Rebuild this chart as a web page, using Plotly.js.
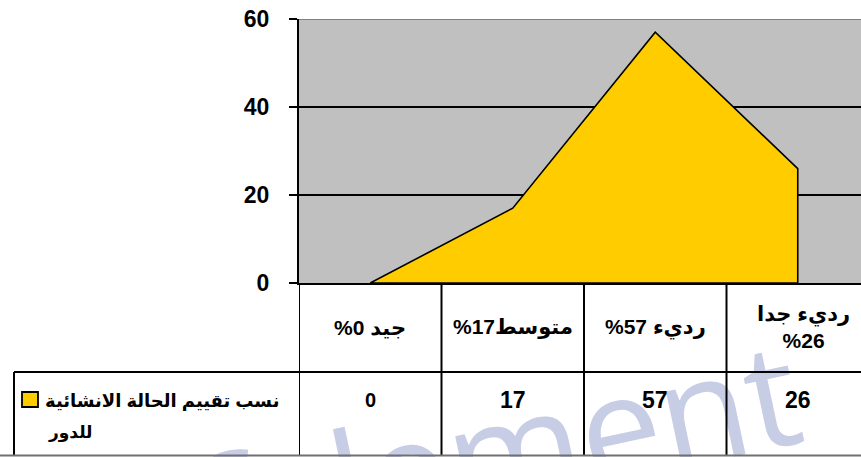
<!DOCTYPE html>
<html>
<head>
<meta charset="utf-8">
<script src="https://cdn.plot.ly/plotly-3.0.1.min.js"></script>
<style>html,body{margin:0;padding:0;background:#fff;}#chart{width:861px;height:457px;}</style>
</head>
<body>
<div id="chart"></div>
<script>
// ---- data ----
const categoryLabels = ["%0 جيد", "%17متوسط", "%57 رديء", "رديء جدا<br>%26"];
const seriesName = "نسب تقييم الحالة الانشائية";
const seriesNameLine2 = "للدور";
const values = [0, 17, 57, 26];
const yTickVals = [0, 20, 40, 60];
const yTickText = ["0", "20", "40", "60"];
const watermark = "<b>pdf</b>element";

// ---- layout helpers (pixels -> paper) ----
const W = 861, H = 457;
const px = v => v / W;
const py = v => 1 - v / H;
const plotLeft = 299, plotTop = 19, plotBottom = 283;
const colW = 142.5;
const idx = values.map((_, i) => i);
const xMax = (W - plotLeft) / colW - 0.5;

const FONT = "Liberation Sans, Arial, DejaVu Sans, sans-serif";

// closed polygon for the area (Excel area outline incl. right edge)
const polyX = idx.concat([idx[idx.length - 1], idx[0]]);
const polyY = values.concat([0, 0]);

const traces = [{
  type: "scatter", mode: "lines",
  x: polyX, y: polyY,
  fill: "toself", fillcolor: "#FFCC00",
  line: {color: "#000", width: 1.6},
  hoverinfo: "skip", showlegend: false
}];

const shapes = [];
// watermark (under everything)
shapes.push({type: "rect", xref: "paper", yref: "paper", layer: "below",
  x0: px(309), x1: px(509), y0: py(428), y1: py(528),
  line: {width: 0}, fillcolor: "rgba(0,0,0,0)",
  label: {text: watermark, textangle: -12, textposition: "middle center",
    font: {family: "Open Sans, sans-serif", size: 145, color: "#c8cde6"}}});
// top border of plot area
shapes.push({type: "line", xref: "paper", yref: "y", x0: px(plotLeft), x1: 1, y0: 60, y1: 60,
  line: {color: "#808080", width: 2}});
// table vertical lines
[-0.5, 0.5, 1.5, 2.5].forEach(b => shapes.push({type: "line", xref: "x", yref: "paper",
  x0: b, x1: b, y0: py(plotBottom), y1: py(455), line: {color: "#000", width: 2}}));
// table row line
shapes.push({type: "line", xref: "paper", yref: "paper", x0: px(14), x1: 1, y0: py(372), y1: py(372),
  line: {color: "#000", width: 2}});
// legend cell left border
shapes.push({type: "line", xref: "paper", yref: "paper", x0: px(14), x1: px(14), y0: py(372), y1: py(455),
  line: {color: "#000", width: 2}});
// bottom gray line
shapes.push({type: "line", xref: "paper", yref: "paper", x0: 0, x1: 1, y0: py(455.5), y1: py(455.5),
  line: {color: "#707070", width: 2}});
// legend key
shapes.push({type: "rect", xref: "paper", yref: "paper", x0: px(22), x1: px(38), y0: py(407), y1: py(392),
  fillcolor: "#FFCC00", line: {color: "#000", width: 1.8}});

const annotations = [];
categoryLabels.forEach((t, i) => annotations.push({
  xref: "x", yref: "paper", x: i, y: py(327), text: "<b>" + t + "</b>", showarrow: false,
  xshift: i === 3 ? 6 : 0,
  xanchor: "center", yanchor: "middle", font: {family: FONT, size: 21, color: "#000"}}));
values.forEach((v, i) => annotations.push({
  xref: "x", yref: "paper", x: i, y: py(400), text: "<b>" + v + "</b>", showarrow: false,
  xanchor: "center", yanchor: "middle", font: {family: FONT, size: i === 0 ? 20 : 23, color: "#000"}}));
annotations.push({xref: "paper", yref: "paper", x: px(281), y: py(401), xanchor: "right", yanchor: "middle",
  text: "<b>" + seriesName + "</b>", showarrow: false, font: {family: FONT, size: 18, color: "#000"}});
annotations.push({xref: "paper", yref: "paper", x: px(46), y: py(433), xanchor: "left", yanchor: "middle",
  text: "<b>" + seriesNameLine2 + "</b>", showarrow: false, font: {family: FONT, size: 17, color: "#000"}});

const layout = {
  width: W, height: H,
  margin: {l: 0, r: 0, t: 0, b: 0, pad: 0},
  paper_bgcolor: "#fff", plot_bgcolor: "#C0C0C0",
  showlegend: false,
  xaxis: {domain: [px(plotLeft), 1], range: [-0.5, xMax], showticklabels: false, ticks: "",
    showgrid: false, zeroline: false, showline: true, linecolor: "#000", linewidth: 2, fixedrange: true},
  yaxis: {domain: [py(plotBottom), py(plotTop)], range: [0, 60], tickvals: yTickVals, ticktext: yTickText,
    showgrid: true, gridcolor: "#000", gridwidth: 1.5, zeroline: false,
    showline: true, linecolor: "#000", linewidth: 2,
    ticks: "outside", ticklen: 8, tickwidth: 2, tickcolor: "#000", ticklabelstandoff: 15,
    tickfont: {family: FONT, size: 23, color: "#000", weight: "bold"}, fixedrange: true},
  shapes: shapes,
  annotations: annotations
};

Plotly.newPlot("chart", traces, layout, {displayModeBar: false, staticPlot: true});
</script>
</body>
</html>
